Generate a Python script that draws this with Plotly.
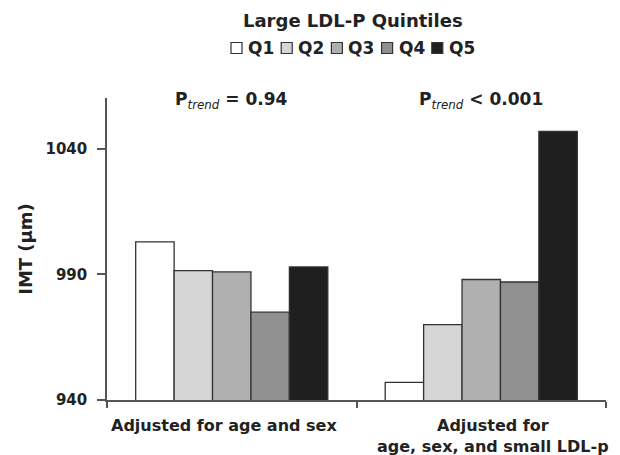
import plotly.graph_objects as go

categories = ["Adjusted for age and sex", "Adjusted for<br>age, sex, and small LDL-p"]
quintiles = ["Q1", "Q2", "Q3", "Q4", "Q5"]
values = {
    "Q1": [1003, 947],
    "Q2": [991.5, 970],
    "Q3": [991, 988],
    "Q4": [975, 987],
    "Q5": [993, 1047],
}
colors = ["#ffffff", "#d5d5d5", "#b0b0b0", "#909090", "#1f1f1f"]
p_values = ["= 0.94", "< 0.001"]
y_ticks = [940, 990, 1040]
legend_title = "Large LDL-P Quintiles"

FONT = "DejaVu Sans, Liberation Sans, Arial, sans-serif"
TXT = "#222222"

fig = go.Figure()
for q, c in zip(quintiles, colors):
    fig.add_trace(go.Bar(
        x=categories, y=values[q], name=q,
        marker=dict(color=c, line=dict(color="#333333", width=1.3)),
        showlegend=False,
    ))

fig.update_layout(
    width=620, height=455,
    margin=dict(l=107, r=14, t=98, b=55, autoexpand=False),
    paper_bgcolor="white", plot_bgcolor="white",
    font=dict(family=FONT, color=TXT, size=15, weight="bold"),
    barmode="group", bargap=0.23, bargroupgap=0,
    showlegend=False,
    xaxis=dict(
        type="category", range=[-0.5, 1.5],
        showline=True, linecolor="#555555", linewidth=1.5,
        ticks="outside", tickson="boundaries", ticklen=6, tickcolor="#555555", tickwidth=1.5,
        showticklabels=False, showgrid=False, automargin=False,
    ),
    yaxis=dict(
        range=[940, 1060.3], tickvals=y_ticks,
        showline=True, linecolor="#555555", linewidth=1.5,
        ticks="outside", ticklen=8, tickcolor="#555555", tickwidth=1.5,
        ticklabelstandoff=7,
        tickfont=dict(size=15, family=FONT, color=TXT, weight="bold"),
        showgrid=False, zeroline=False, automargin=False,
        title=dict(text="IMT (μm)", font=dict(size=18, family=FONT, color=TXT, weight="bold"), standoff=8),
    ),
)

# category labels (slightly offset like the reference)
label_shift = [-8, 12]
for i, cat in enumerate(categories):
    fig.add_annotation(
        text=cat, xref="x", yref="paper", x=cat, y=0, yshift=-14, xshift=label_shift[i],
        showarrow=False, xanchor="center", yanchor="top", align="center",
        font=dict(size=16, family=FONT, color=TXT, weight="bold"),
    )

# legend title
fig.add_annotation(
    text=legend_title, xref="paper", yref="paper",
    x=0.492, y=1.258, showarrow=False, xanchor="center", yanchor="middle",
    font=dict(size=18, family=FONT, color=TXT, weight="bold"),
)

# compact legend built from the quintile names and colours
W, H = 499.0, 302.0
box_px = 11
start_px = 231 - 107
pitch_px = 50.2
ymid = (400 - 48) / H
for i, (q, c) in enumerate(zip(quintiles, colors)):
    x0 = (start_px + i * pitch_px) / W
    fig.add_shape(
        type="rect", xref="paper", yref="paper",
        x0=x0, x1=x0 + box_px / W, y0=ymid - box_px / 2 / H, y1=ymid + box_px / 2 / H,
        fillcolor=c, line=dict(color="#333333", width=1.2),
    )
    fig.add_annotation(
        text=q, xref="paper", yref="paper", x=x0 + (box_px + 4) / W, y=ymid,
        showarrow=False, xanchor="left", yanchor="middle",
        font=dict(size=17, family=FONT, color=TXT, weight="bold"),
    )

# P-trend annotations
for i, pv in enumerate(p_values):
    fig.add_annotation(
        text="P<sub><span style='font-weight:normal'><i>trend</i></span></sub> " + pv,
        xref="x", yref="paper", x=categories[i], y=1.0, yshift=-2, showarrow=False,
        xanchor="center", yanchor="middle",
        font=dict(size=17, family=FONT, color=TXT, weight="bold"),
    )

fig.write_html("out.html", config={"displayModeBar": False},
               post_script="document.body.style.margin='0';")
